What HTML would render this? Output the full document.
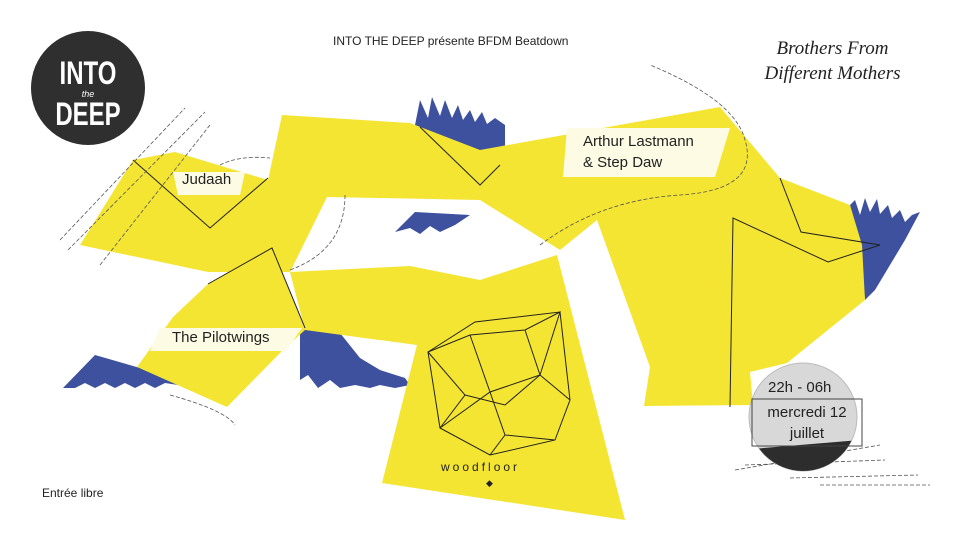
<!DOCTYPE html>
<html><head><meta charset="utf-8"><style>
body{margin:0;width:960px;height:539px;overflow:hidden;background:#fff;font-family:"Liberation Sans",sans-serif}
svg{position:absolute;left:0;top:0}
.t{position:absolute;color:#222;white-space:nowrap}
</style></head><body>
<svg width="960" height="539" viewBox="0 0 960 539">
<g fill="#3e519e">
<polygon points="415,125 420,100 428,118 432,97 440,116 445,100 452,118 458,105 463,120 470,110 475,122 482,112 487,124 495,118 505,125 505,150 480,168"/>
<polygon points="395,232 415,212 470,215 455,225 440,232 430,226 420,234 410,228"/>
<polygon points="850,205 855,200 860,215 865,198 870,212 877,199 880,214 888,205 892,218 900,210 905,222 912,215 920,212 905,240 890,265 875,290 865,300 860,250"/>
<polygon points="63,388 95,355 140,368 175,372 178,385 165,383 155,388 145,383 135,388 125,383 115,388 105,383 95,388 85,383 75,388"/>
<polygon points="300,330 310,328 340,333 360,358 380,370 405,378 410,385 395,388 380,385 370,388 355,385 340,388 330,380 318,388 308,375 300,380"/>
</g>
<g fill="#f4e532">
<polygon points="80,245 133,160 175,152 268,180 282,115 410,123 480,150 720,107 780,178 850,205 862,245 865,300 787,363 750,372 753,405 644,406 650,367 597,220 560,250 480,200 327,197 290,272 208,272"/>
<polygon points="137,367 173,317 208,284 272,248 305,330 283,350 227,407"/>
<polygon points="290,272 410,266 480,280 557,255 625,520 382,483 417,345 305,330"/>
</g>
<g fill="#fdfbe3">
<polygon points="173,172 245,172 240,195 178,195"/>
<polygon points="567,128 730,128 715,177 563,177"/>
<polygon points="160,328 302,328 286,351 150,351"/>
</g>
<g fill="none" stroke="#222" stroke-width="1">
<polyline points="133,160 210,228 268,178"/>
<polyline points="420,127 480,185 500,165"/>
<polyline points="208,284 272,248 305,328"/>
<polyline points="780,178 801,232 880,245 828,262 733,218 730,407"/>
<polygon points="428,352 475,322 560,312 570,400 555,440 490,455 440,428"/>
<polyline points="428,352 470,335 525,330 560,312 540,375 490,392 440,428"/>
<polyline points="470,335 490,392 505,435 555,440"/>
<polyline points="525,330 540,375 570,400"/>
<polyline points="505,435 490,455"/>
<polyline points="428,352 465,395 440,428"/>
<polyline points="465,395 505,405 540,375"/>
</g>
<g fill="none" stroke="#555" stroke-width="0.8" stroke-dasharray="4,2">
<path d="M60,240 L185,108 M68,250 L205,112 M100,265 L210,125"/>
<path d="M220,165 Q240,155 270,158 M290,270 Q345,250 345,195"/>
<path d="M170,395 Q225,410 235,425 M540,245 Q600,200 680,195 Q760,190 745,140 Q735,100 650,65"/>
<path d="M735,470 L880,445 M745,465 L885,460 M790,478 L918,475 M820,485 L930,485"/>
</g>
<circle cx="88" cy="88" r="57" fill="#2f2f2f"/>
<text x="88" y="84" fill="#fff" font-weight="bold" font-size="32" text-anchor="middle" transform="translate(88,0) scale(0.75,1) translate(-88,0)">INTO</text>
<text x="88" y="125" fill="#fff" font-weight="bold" font-size="32" text-anchor="middle" transform="translate(88,0) scale(0.75,1) translate(-88,0)">DEEP</text>
<text x="88" y="97" fill="#fff" font-size="9" font-style="italic" text-anchor="middle">the</text>
<clipPath id="c"><circle cx="803" cy="417" r="54"/></clipPath>
<circle cx="803" cy="417" r="54" fill="#d8d8d8" stroke="#bbb"/>
<polygon clip-path="url(#c)" points="740,450 860,440 870,480 740,480" fill="#2d2d2d"/>
<rect x="752" y="399" width="110" height="47" fill="none" stroke="#444"/>
</svg>
<div class="t" style="left:333px;top:34px;font-size:12px">INTO THE DEEP présente BFDM Beatdown</div>
<div class="t" style="left:735px;top:36px;font-family:'Liberation Serif',serif;font-style:italic;font-size:19px;line-height:25px;text-align:center;width:195px">Brothers From<br>Different Mothers</div>
<div class="t" style="left:182px;top:171px;font-size:15px">Judaah</div>
<div class="t" style="left:583px;top:131px;font-size:15px;line-height:21px">Arthur Lastmann<br>&amp; Step Daw</div>
<div class="t" style="left:172px;top:329px;font-size:15px">The Pilotwings</div>
<div class="t" style="left:441px;top:460px;font-size:12px;letter-spacing:3px">woodfloor</div>
<div class="t" style="left:486px;top:478px;font-size:9px">◆</div>
<div class="t" style="left:42px;top:486px;font-size:12px">Entrée libre</div>
<div class="t" style="left:768px;top:379px;font-size:15px">22h - 06h</div>
<div class="t" style="left:758px;top:402px;font-size:15px;line-height:21px;text-align:center;width:98px">mercredi 12<br>juillet</div>
</body></html>
